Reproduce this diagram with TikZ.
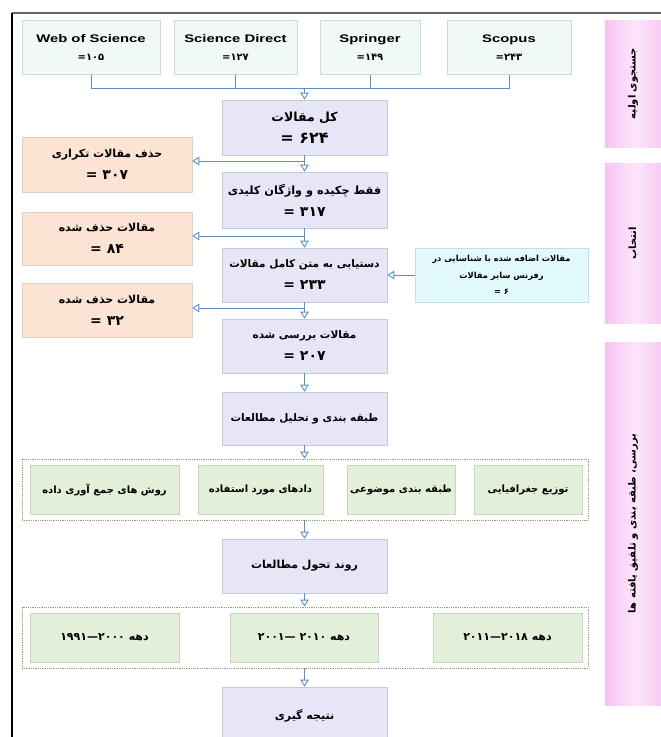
\documentclass[tikz,border=0pt]{standalone}
\usepackage{fontspec}
\usetikzlibrary{arrows.meta}
\TeXXeTstate=1
\setmainfont{Liberation Sans}
\newfontfamily\widesans[FakeStretch=1.35]{Liberation Sans}
\newfontfamily\arabicfont[Script=Arabic]{DejaVu Sans}
\newcommand{\rl}[1]{\beginR #1\endR}
\newcommand{\numsz}{\fontsize{14}{16}\selectfont}
\definecolor{mint}{HTML}{F0F9F4}
\definecolor{mintb}{HTML}{CBDCD2}
\definecolor{lav}{HTML}{E6E6F7}
\definecolor{lavb}{HTML}{C9C9DE}
\definecolor{peach}{HTML}{FBE4D4}
\definecolor{peachb}{HTML}{E2D0C2}
\definecolor{cyanl}{HTML}{E2FAFC}
\definecolor{cyanb}{HTML}{C2DFE4}
\definecolor{greenl}{HTML}{E2EFD9}
\definecolor{greenb}{HTML}{C8D6BF}
\definecolor{pinkE}{HTML}{F7C3F2}
\definecolor{pinkM}{HTML}{FDE6FB}
\definecolor{arrblue}{HTML}{5B8FC9}
\definecolor{olivedot}{HTML}{98A070}
\tikzset{
  topbox/.style={draw=mintb, fill=mint, line width=0.6pt, align=center, inner sep=0pt,
    font=\widesans\bfseries\fontsize{11}{18}\selectfont},
  cbox/.style={draw=lavb, fill=lav, line width=0.6pt, align=center, inner sep=0pt,
    minimum width=165pt, font=\arabicfont\bfseries\fontsize{10.5}{22}\selectfont},
  pbox/.style={draw=peachb, fill=peach, line width=0.6pt, align=center, inner sep=0pt,
    minimum width=170pt, font=\arabicfont\bfseries\fontsize{11}{22}\selectfont},
  cyanbox/.style={draw=cyanb, fill=cyanl, line width=0.6pt, align=center, inner sep=0pt,
    font=\arabicfont\bfseries\fontsize{8.3}{16.5}\selectfont},
  gbox/.style={draw=greenb, fill=greenl, line width=0.6pt, align=center, inner sep=0pt,
    minimum height=49pt, font=\arabicfont\bfseries\fontsize{10}{12}\selectfont},
  grp/.style={draw=olivedot, densely dotted, line width=0.8pt, minimum width=566pt, minimum height=61pt, inner sep=0pt},
  pinkbox/.style={draw=none, left color=pinkE, right color=pinkE, middle color=pinkM, minimum width=63pt, inner sep=0pt},
  pinklabel/.style={rotate=90, font=\arabicfont\bfseries\fontsize{10}{12}\selectfont},
  conn/.style={draw=arrblue, line width=0.9pt},
  arr/.style={conn, -{Triangle[open, length=7pt, width=8.5pt]}},
}
\begin{document}
\begin{tikzpicture}[x=1pt, y=-1pt]
\useasboundingbox (0,0) rectangle (661,737);
% frame
\draw[draw=black!60, line width=1.3pt] (12,13) -- (661,13);
\draw[draw=black, line width=1.2pt] (12,13) -- (12,737);

% pink phase boxes
\node[pinkbox, minimum height=127pt] (p1) at (636.5,83.5) {};
\node[pinklabel] (p1t) at (633,83.5) {\rl{جستجوی اولیه}};
\node[pinkbox, minimum height=160pt] (p2) at (636.5,243) {};
\node[pinklabel] (p2t) at (633,243) {\rl{انتخاب}};
\node[pinkbox, minimum height=363pt] (p3) at (636.5,523.5) {};
\node[pinklabel] (p3t) at (633,523.5) {\rl{بررسی، طبقه بندی و تلفیق یافته ها}};

% top databases
\node[topbox, minimum width=138pt, minimum height=54pt] (wos) at (91,47.5) {Web of Science\\{\arabicfont\bfseries\fontsize{10}{12}\selectfont =\kern0pt۱۰۵}};
\node[topbox, minimum width=123pt, minimum height=54pt] (sd) at (235.5,47.5) {Science Direct\\{\arabicfont\bfseries\fontsize{10}{12}\selectfont =\kern0pt۱۲۷}};
\node[topbox, minimum width=100pt, minimum height=54pt] (spr) at (370,47.5) {Springer\\{\arabicfont\bfseries\fontsize{10}{12}\selectfont =\kern0pt۱۴۹}};
\node[topbox, minimum width=124pt, minimum height=54pt] (sco) at (509,47.5) {Scopus\\{\arabicfont\bfseries\fontsize{10}{12}\selectfont =\kern0pt۲۴۳}};

% centre column
\node[cbox, minimum height=55pt] (all) at (304.5,127.5) {{\fontsize{12.5}{24}\selectfont\rl{کل مقالات}}\\{\fontsize{16}{18}\selectfont = ۶۲۴}};
\node[cbox, minimum height=56pt] (abs) at (304.5,200) {{\fontsize{11.3}{22}\selectfont\rl{فقط چکیده و واژگان کلیدی}}\\{\numsz = ۳۱۷}};
\node[cbox, minimum height=54pt] (full) at (304.5,275) {\rl{دستیابی به متن کامل مقالات}\\{\numsz = ۲۳۳}};
\node[cbox, minimum height=54pt] (rev) at (304.5,346) {\rl{مقالات بررسی شده}\\{\numsz = ۲۰۷}};
\node[cbox, minimum height=53pt] (cls) at (304.5,418.5) {\rl{طبقه بندی و تحلیل مطالعات}};
\node[cbox, minimum height=54pt, font=\arabicfont\bfseries\fontsize{11}{13}\selectfont] (trend) at (304.5,566) {\rl{روند تحول مطالعات}};
\node[cbox, minimum height=58pt, font=\arabicfont\bfseries\fontsize{11}{13}\selectfont] (concl) at (304.5,716) {\rl{نتیجه گیری}};

% left removed boxes
\node[pbox, minimum height=55pt] (dup) at (107,164.5) {\rl{حذف مقالات تکراری}\\{\numsz = ۳۰۷}};
\node[pbox, minimum height=53pt] (del1) at (107,238.5) {\rl{مقالات حذف شده}\\{\numsz = ۸۴}};
\node[pbox, minimum height=54pt] (del2) at (107,310) {\rl{مقالات حذف شده}\\{\numsz = ۳۲}};

% added box
\node[cyanbox, minimum width=173pt, minimum height=54pt] (add) at (501.5,275) {\rl{مقالات اضافه شده با شناسایی در}\\\rl{رفرنس سایر مقالات}\\= ۶};

% group 1
\node[grp] (grp1) at (305,489.5) {};
\node[gbox, minimum width=149pt] (g1) at (104.5,489.5) {\rl{روش های جمع آوری داده}};
\node[gbox, minimum width=125pt] (g2) at (260.5,489.5) {\rl{دادهای مورد استفاده}};
\node[gbox, minimum width=108pt] (g3) at (401,489.5) {\rl{طبقه بندی موضوعی}};
\node[gbox, minimum width=108pt] (g4) at (528,489.5) {\rl{توزیع جغرافیایی}};

% group 2
\node[grp] (grp2) at (305,637.5) {};
\node[gbox, minimum width=149pt, font=\arabicfont\bfseries\fontsize{11}{13}\selectfont] (d1) at (104.5,637.5) {\rl{دهه ۲۰۰۰\kern0pt—\kern0pt۱۹۹۱}};
\node[gbox, minimum width=148pt, font=\arabicfont\bfseries\fontsize{11}{13}\selectfont] (d2) at (304,637.5) {\rl{دهه ۲۰۱۰ —\kern0pt۲۰۰۱}};
\node[gbox, minimum width=149pt, font=\arabicfont\bfseries\fontsize{11}{13}\selectfont] (d3) at (507.5,637.5) {\rl{دهه ۲۰۱۸\kern0pt—\kern0pt۲۰۱۱}};

% connectors
\coordinate (hub) at (304.5,88);
\draw[conn] (wos.south) -- (wos.south |- hub) -- (sco.south |- hub) -- (sco.south);
\draw[conn] (sd.south) -- (sd.south |- hub);
\draw[conn] (spr.south) -- (spr.south |- hub);
\draw[arr] (hub) -- (all.north);

\coordinate (b1) at (304.5,161);
\coordinate (b2) at (304.5,236);
\coordinate (b3) at (304.5,308);
\draw[arr] (all.south) -- (abs.north);
\draw[arr] (b1) -- (b1 -| dup.east);
\draw[arr] (abs.south) -- (full.north);
\draw[arr] (b2) -- (b2 -| del1.east);
\draw[arr] (full.south) -- (rev.north);
\draw[arr] (b3) -- (b3 -| del2.east);
\draw[arr] (add.west) -- (full.east);
\draw[arr] (rev.south) -- (cls.north);
\draw[arr] (cls.south) -- (cls.south |- grp1.north);
\draw[arr] (cls.south |- grp1.south) -- (trend.north);
\draw[arr] (trend.south) -- (trend.south |- grp2.north);
\draw[arr] (trend.south |- grp2.south) -- (concl.north);
\end{tikzpicture}
\end{document}
